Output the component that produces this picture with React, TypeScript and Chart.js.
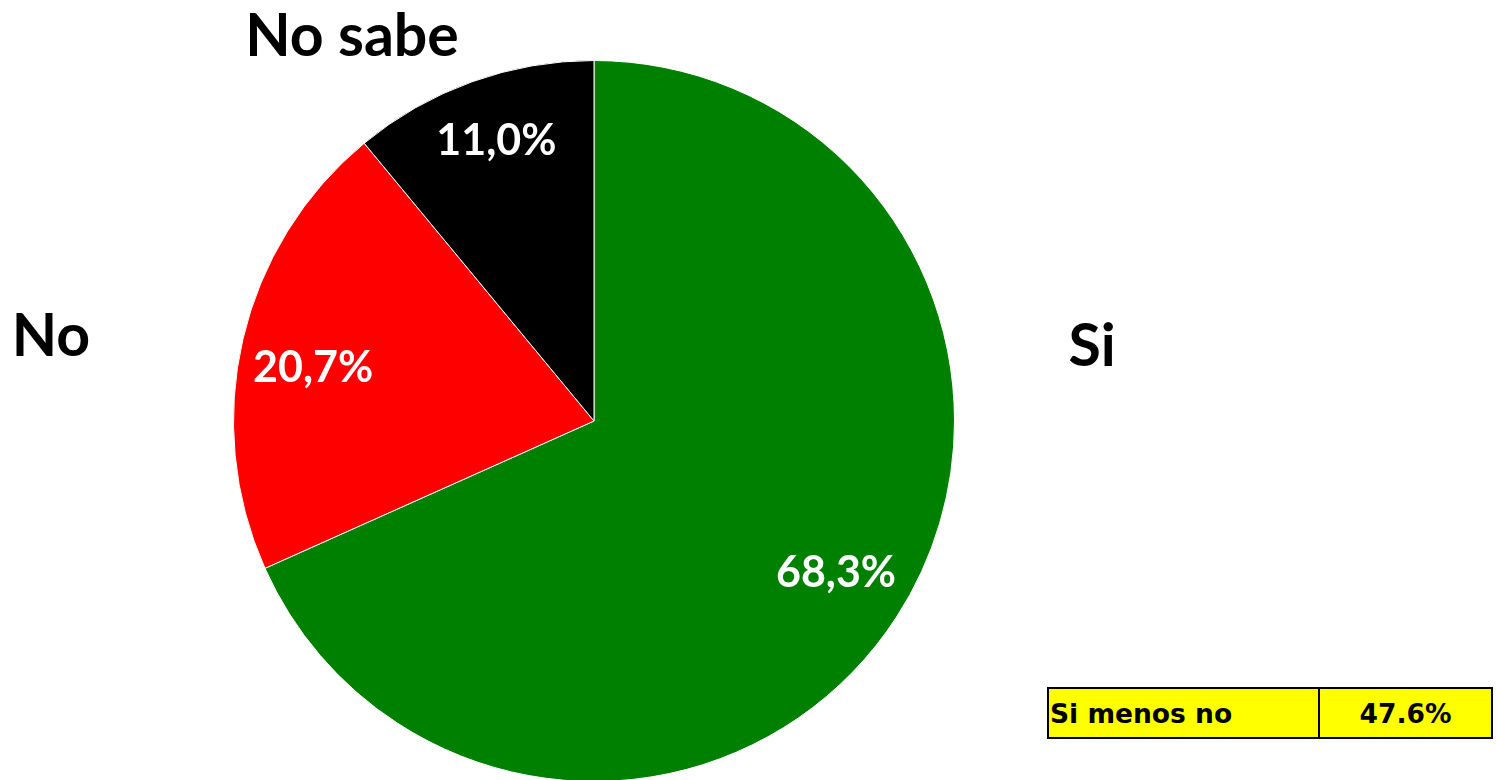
import React, { useEffect, useRef } from "react";
import { Chart, registerables } from "chart.js";

Chart.register(...registerables);

const categories = ["Si", "No", "No sabe"];
const values = [68.3, 20.7, 11.0];
const valueLabels = ["68,3%", "20,7%", "11,0%"];
const colors = ["#008000", "#FF0000", "#000000"];
const summaryLabel = "Si menos no";
const summaryValue = "47.6%";

const FONT = "Lato, 'Open Sans', sans-serif";
// small per-label vertical nudges (styling, in px)
const labelNudgeY = [0, 18, -4];

const labelPlugin = {
  id: "innerLabels",
  afterDatasetsDraw(chart: any) {
    const ctx = chart.ctx;
    const meta = chart.getDatasetMeta(0);
    ctx.save();
    ctx.fillStyle = "#FFFFFF";
    ctx.font = `bold 43px ${FONT}`;
    ctx.textAlign = "center";
    ctx.textBaseline = "middle";
    meta.data.forEach((arc: any, i: number) => {
      const p = arc.getProps(["x", "y", "startAngle", "endAngle", "outerRadius"], true);
      const mid = (p.startAngle + p.endAngle) / 2;
      const r = p.outerRadius * 0.8;
      ctx.fillText(valueLabels[i], p.x + Math.cos(mid) * r, p.y + Math.sin(mid) * r - 5 + labelNudgeY[i]);
    });
    ctx.restore();
  },
};

export default function App() {
  const ref = useRef<HTMLCanvasElement>(null);
  useEffect(() => {
    if (!ref.current) return;
    const chart = new Chart(ref.current, {
      type: "pie",
      data: {
        labels: categories,
        datasets: [
          {
            data: values,
            backgroundColor: colors,
            borderColor: "#FFFFFF",
            borderWidth: 1,
          },
        ],
      },
      options: {
        responsive: false,
        animation: false,
        layout: { padding: { left: 233, right: 542, top: 60, bottom: 18 } },
        plugins: { legend: { display: false }, tooltip: { enabled: false } },
      },
      plugins: [labelPlugin],
    });
    return () => chart.destroy();
  }, []);

  const outer: React.CSSProperties = {
    position: "absolute",
    fontFamily: FONT,
    fontWeight: 700,
    fontSize: 59,
    color: "#000",
    lineHeight: 1,
    whiteSpace: "nowrap",
    transform: "translate(-50%, -50%)",
  };

  return (
    <div style={{ position: "fixed", left: 0, top: 0, width: 1497, height: 780, overflow: "hidden", background: "#fff" }}>
      <canvas ref={ref} width={1497} height={800} style={{ position: "absolute", left: 0, top: 0 }} />
      <div style={{ ...outer, left: 352, top: 33 }}>{categories[2]}</div>
      <div style={{ ...outer, left: 51, top: 333 }}>{categories[1]}</div>
      <div style={{ ...outer, left: 1092, top: 343 }}>{categories[0]}</div>
      <table
        style={{
          position: "absolute",
          left: 1047,
          top: 687,
          width: 446,
          height: 52,
          borderCollapse: "collapse",
          background: "#FFFF00",
          fontFamily: "'DejaVu Sans', sans-serif",
          fontWeight: 700,
          fontSize: 26.5,
          color: "#000",
        }}
      >
        <tbody>
          <tr>
            <td style={{ border: "2px solid #000", width: 268, padding: "0 0 0 1px", textAlign: "left", whiteSpace: "nowrap" }}>{summaryLabel}</td>
            <td style={{ border: "2px solid #000", padding: 0, textAlign: "center" }}>{summaryValue}</td>
          </tr>
        </tbody>
      </table>
    </div>
  );
}
